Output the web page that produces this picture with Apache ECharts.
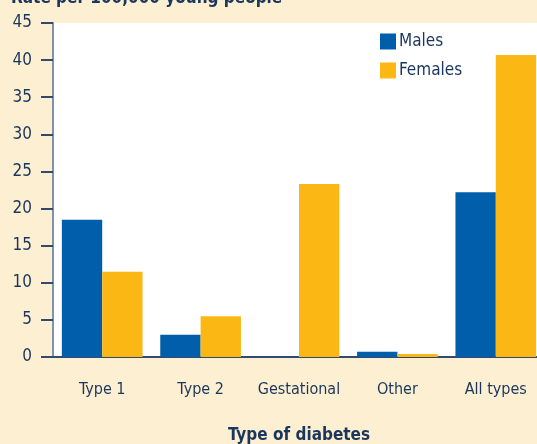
<!DOCTYPE html>
<html>
<head>
<meta charset="utf-8">
<script src="https://cdn.jsdelivr.net/npm/echarts@6/dist/echarts.min.js"></script>
<style>
  html, body { margin: 0; padding: 0; background: #fdefd1; }
  #chart { width: 537px; height: 444px; }
</style>
</head>
<body>
<div id="chart"></div>
<script>
// 数据
const categories = ['Type 1', 'Type 2', 'Gestational', 'Other', 'All types'];
const males = [18.5, 3.0, 0.05, 0.7, 22.2];
const females = [11.5, 5.5, 23.3, 0.4, 40.7];
const yTicks = [0, 5, 10, 15, 20, 25, 30, 35, 40, 45];

const navy = '#1b365d';
const font = '"Liberation Sans Narrow", "DejaVu Sans Condensed", sans-serif';

const chart = echarts.init(document.getElementById('chart'));

chart.setOption({
  backgroundColor: '#fdefd1',
  animation: false,
  title: {
    text: 'Rate per 100,000 young people',
    left: 6,
    top: -15,
    textStyle: { color: navy, fontFamily: font, fontSize: 17, fontWeight: 'bold' }
  },
  legend: {
    orient: 'vertical',
    left: 380,
    top: 33,
    padding: 0,
    itemWidth: 16,
    itemHeight: 16,
    itemGap: 12,
    icon: 'rect',
    textStyle: { color: navy, fontFamily: font, fontSize: 17, padding: [0, 0, 0, -2] },
    data: ['Males', 'Females']
  },
  grid: {
    left: 53,
    top: 23,
    width: 492,
    bottom: 87,
    outerBoundsMode: 'none',
    containLabel: false,
    show: true,
    backgroundColor: '#ffffff',
    borderWidth: 0
  },
  xAxis: {
    type: 'category',
    data: categories,
    name: 'Type of diabetes',
    nameLocation: 'middle',
    nameGap: 70,
    nameTextStyle: { color: navy, fontFamily: font, fontSize: 17, fontWeight: 'bold' },
    axisLine: { lineStyle: { color: '#34496b', width: 2 } },
    axisTick: { show: false },
    axisLabel: { color: navy, fontFamily: font, fontSize: 16, margin: 25, interval: 0 }
  },
  yAxis: {
    type: 'value',
    min: yTicks[0],
    max: yTicks[yTicks.length - 1],
    interval: 5,
    splitLine: { show: false },
    axisLine: { show: true, lineStyle: { color: '#7f93ab', width: 2 } },
    axisTick: { show: true, length: 12, lineStyle: { color: '#34496b', width: 2 } },
    axisLabel: { color: navy, fontFamily: font, fontSize: 17, margin: 21 }
  },
  series: [
    {
      name: 'Males',
      type: 'bar',
      data: males,
      barGap: '0%',
      barCategoryGap: '18%',
      itemStyle: { color: '#005eaa' }
    },
    {
      name: 'Females',
      type: 'bar',
      data: females,
      itemStyle: { color: '#fbb815' }
    }
  ]
});
</script>
</body>
</html>
